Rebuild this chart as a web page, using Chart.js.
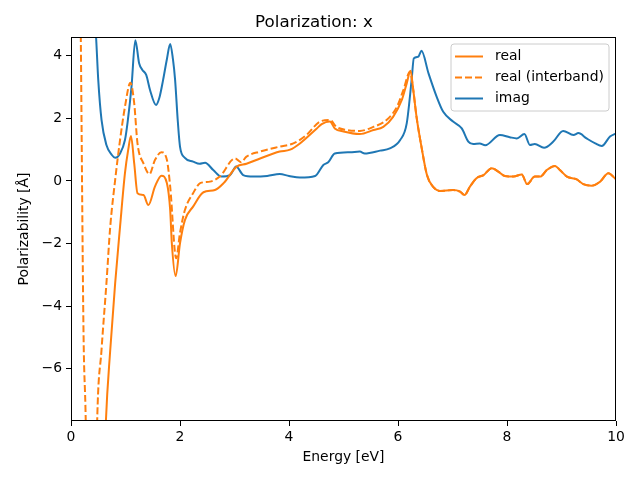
<!DOCTYPE html>
<html>
<head>
<meta charset="utf-8">
<script src="https://cdn.jsdelivr.net/npm/chart.js@4.4.1/dist/chart.umd.min.js"></script>
<style>
  html, body { margin: 0; padding: 0; background: #fff; }
  #wrap { width: 640px; height: 480px; }
</style>
</head>
<body>
<div id="wrap"><canvas id="polar"></canvas></div>
<script>
// energy [eV] and polarizability values
var realE = [0.50, 0.64, 0.72, 0.81, 0.90, 0.99, 1.05, 1.10, 1.16, 1.22, 1.33, 1.42, 1.54, 1.66, 1.76, 1.82, 1.85, 1.92, 2.00, 2.09,
    2.24, 2.43, 2.64, 2.80, 3.04, 3.22, 3.47, 3.83, 4.02, 4.20, 4.51, 4.60, 4.75, 4.84, 5.00, 5.30, 5.55, 5.73, 5.91, 6.07,
    6.16, 6.23, 6.28, 6.34, 6.43, 6.53, 6.65, 6.77, 7.01, 7.14, 7.22, 7.32, 7.44, 7.57, 7.72, 7.84, 7.96, 8.12, 8.27, 8.37,
    8.51, 8.61, 8.73, 8.88, 8.97, 9.10, 9.28, 9.40, 9.55, 9.71, 9.86, 10.0];
var realVal = [-16, -7.69, -5.4, -3.27, -1.46, 0.25, 1.0, 1.44, 0.56, -0.39, -0.45, -0.77, -0.18, 0.17, -0.07, -0.93, -1.99, -3.04, -1.99, -1.25,
    -0.82, -0.36, -0.29, -0.07, 0.46, 0.55, 0.72, 0.94, 1.0, 1.2, 1.68, 1.82, 1.9, 1.68, 1.58, 1.5, 1.63, 1.73, 2.05, 2.59,
    3.12, 3.52, 2.91, 2.05, 1.1, 0.2, -0.2, -0.32, -0.29, -0.34, -0.45, -0.18, 0.09, 0.19, 0.41, 0.3, 0.16, 0.14, 0.21, -0.1,
    0.14, 0.14, 0.35, 0.48, 0.35, 0.14, 0.05, -0.1, -0.15, -0.02, 0.25, 0.05];

var interE = [0.10, 0.18, 0.23, 0.27, 0.32, 0.44, 0.48, 0.56, 0.65, 0.72, 0.81, 0.90, 0.99, 1.09, 1.16, 1.22, 1.33, 1.44, 1.54, 1.66,
    1.76, 1.82, 1.93, 2.00, 2.09, 2.24, 2.37, 2.55, 2.73, 3.01, 3.12, 3.22, 3.47, 3.83, 4.08, 4.32, 4.57, 4.75, 4.87, 5.06,
    5.30, 5.55, 5.79, 5.98, 6.10, 6.22, 6.28, 6.34, 6.43, 6.53, 6.65, 6.77, 7.01, 7.14, 7.22, 7.32, 7.44, 7.57, 7.72, 7.84,
    7.96, 8.12, 8.27, 8.37, 8.51, 8.61, 8.73, 8.88, 8.97, 9.10, 9.28, 9.40, 9.55, 9.71, 9.86, 10.0];
var interVal = [20, 4.6, -4.87, -7.64, -14, -12, -7.69, -5.4, -3.27, -1.46, 0.03, 1.31, 2.37, 3.14, 2.48, 1.2, 0.56, 0.22, 0.67, 0.92,
    0.67, -0.18, -2.47, -1.66, -0.93, -0.39, -0.07, -0.02, 0.14, 0.72, 0.6, 0.78, 0.94, 1.1, 1.2, 1.47, 1.9, 1.95, 1.73, 1.63,
    1.6, 1.73, 1.95, 2.37, 2.91, 3.49, 2.91, 2.05, 1.1, 0.2, -0.2, -0.32, -0.29, -0.34, -0.45, -0.18, 0.09, 0.19, 0.41, 0.3,
    0.16, 0.14, 0.21, -0.1, 0.14, 0.14, 0.35, 0.48, 0.35, 0.14, 0.05, -0.1, -0.15, -0.02, 0.25, 0.05];

var imagE = [0.30, 0.46, 0.50, 0.56, 0.65, 0.75, 0.81, 0.90, 0.99, 1.04, 1.11, 1.18, 1.25, 1.31, 1.38, 1.45, 1.56, 1.62, 1.69, 1.76,
    1.82, 1.87, 1.91, 1.96, 2.00, 2.09, 2.24, 2.36, 2.46, 2.61, 2.76, 2.92, 3.03, 3.16, 3.35, 3.60, 3.83, 4.00, 4.20, 4.48,
    4.63, 4.72, 4.84, 5.12, 5.30, 5.39, 5.67, 5.85, 6.04, 6.16, 6.25, 6.29, 6.37, 6.43, 6.56, 6.71, 6.83, 7.01, 7.17, 7.29,
    7.38, 7.50, 7.60, 7.87, 8.05, 8.18, 8.32, 8.42, 8.51, 8.68, 8.85, 9.03, 9.22, 9.31, 9.46, 9.62, 9.74, 9.89, 10.0];
var imagVal = [9, 4.6, 3.23, 1.95, 1.15, 0.83, 0.74, 0.88, 1.31, 1.9, 3.01, 4.5, 3.76, 3.55, 3.39, 2.91, 2.43, 2.65, 3.23, 3.9,
    4.38, 3.9, 3.23, 1.9, 1.1, 0.74, 0.62, 0.55, 0.58, 0.35, 0.14, 0.19, 0.46, 0.19, 0.14, 0.16, 0.22, 0.16, 0.11, 0.16,
    0.51, 0.6, 0.88, 0.92, 0.94, 0.88, 0.97, 1.04, 1.31, 1.84, 3.23, 3.92, 3.97, 4.16, 3.44, 2.69, 2.21, 1.9, 1.68, 1.26,
    1.18, 1.2, 1.14, 1.47, 1.40, 1.36, 1.5, 1.15, 1.18, 1.06, 1.26, 1.6, 1.47, 1.53, 1.36, 1.2, 1.12, 1.42, 1.52];

var seriesLabels = ["real", "real (interband)", "imag"];
var yTicks = [-6, -4, -2, 0, 2, 4];

function pts(xs, ys) {
    return xs.map(function(x, i) { return {x: x, y: ys[i]}; });
}

var FONT = "'DejaVu Sans', sans-serif";
var orange = "#ff7f0e";
var blue = "#1f77b4";
var dash = [7, 3];

// frame around plot area + matplotlib-style legend in upper right
var framePlugin = {
    id: 'frame',
    afterDatasetsDraw: function(chart) {
        var ctx = chart.ctx, a = chart.chartArea;
        ctx.save();
        ctx.strokeStyle = '#000';
        ctx.lineWidth = 1;
        ctx.strokeRect(Math.round(a.left) + 0.5, Math.round(a.top) + 0.5,
            Math.round(a.right - a.left) - 1, Math.round(a.bottom - a.top) - 1);

        // legend box
        var bx = 451, by = 44, bw = 158, bh = 67, r = 3;
        ctx.beginPath();
        ctx.moveTo(bx + r, by);
        ctx.arcTo(bx + bw, by, bx + bw, by + bh, r);
        ctx.arcTo(bx + bw, by + bh, bx, by + bh, r);
        ctx.arcTo(bx, by + bh, bx, by, r);
        ctx.arcTo(bx, by, bx + bw, by, r);
        ctx.closePath();
        ctx.fillStyle = 'rgba(255,255,255,0.8)';
        ctx.fill();
        ctx.strokeStyle = '#cccccc';
        ctx.stroke();

        var rows = [56.5, 77.5, 98.5];
        chart.data.datasets.forEach(function(ds, i) {
            ctx.beginPath();
            ctx.strokeStyle = ds.borderColor;
            ctx.lineWidth = 2;
            ctx.setLineDash(ds.borderDash || []);
            ctx.moveTo(455, rows[i]);
            ctx.lineTo(483, rows[i]);
            ctx.stroke();
            ctx.setLineDash([]);
            ctx.fillStyle = '#000';
            ctx.font = '13.9px ' + FONT;
            ctx.textBaseline = 'middle';
            ctx.textAlign = 'left';
            ctx.fillText(ds.label, 495, rows[i]);
        });
        ctx.restore();
    }
};

var polar = document.getElementById("polar");
var polarChart = new Chart(polar, {
    type: 'line',
    data: {
        datasets: [{
            label: seriesLabels[0],
            data: pts(realE, realVal),
            borderColor: orange,
            borderWidth: 2,
            pointRadius: 0,
            cubicInterpolationMode: 'monotone'
        }, {
            label: seriesLabels[1],
            data: pts(interE, interVal),
            borderColor: orange,
            borderWidth: 2,
            borderDash: dash,
            pointRadius: 0,
            cubicInterpolationMode: 'monotone'
        }, {
            label: seriesLabels[2],
            data: pts(imagE, imagVal),
            borderColor: blue,
            borderWidth: 2,
            pointRadius: 0,
            cubicInterpolationMode: 'monotone'
        }]
    },
    options: {
        responsive: true,
        maintainAspectRatio: false,
        animation: false,
        layout: { padding: { left: 12, right: 24, top: 0, bottom: 10 } },
        plugins: {
            legend: { display: false },
            tooltip: { enabled: false },
            title: {
                display: true,
                text: 'Polarization: x',
                color: '#000',
                font: { family: FONT, size: 16.7, weight: 'normal' },
                padding: { top: 13, bottom: 4 }
            }
        },
        scales: {
            x: {
                type: 'linear',
                min: 0,
                max: 10,
                afterFit: function(s) { s.height = 49; },
                border: { display: false },
                grid: { drawOnChartArea: false, drawTicks: true, tickLength: 5, color: '#000' },
                ticks: { stepSize: 2, color: '#000', padding: 3, maxRotation: 0,
                         font: { family: FONT, size: 13.9 } },
                title: { display: true, text: 'Energy [eV]', color: '#000',
                         font: { family: FONT, size: 13.9 }, padding: { top: 2, bottom: 4 } }
            },
            y: {
                type: 'linear',
                min: -7.67,
                max: 4.6,
                afterFit: function(s) { s.width = 59; },
                afterBuildTicks: function(s) {
                    s.ticks = yTicks.map(function(v) { return {value: v}; });
                },
                border: { display: false },
                grid: { drawOnChartArea: false, drawTicks: true, tickLength: 5, color: '#000' },
                ticks: {
                    color: '#000', padding: 4,
                    font: { family: FONT, size: 13.9 },
                    callback: function(v) { return String(v).replace('-', '\u2212'); }
                },
                title: { display: true, text: 'Polarizability [Å]', color: '#000',
                         font: { family: FONT, size: 13.9 }, padding: { top: 4, bottom: 4 } }
            }
        }
    },
    plugins: [framePlugin]
});
</script>
</body>
</html>
